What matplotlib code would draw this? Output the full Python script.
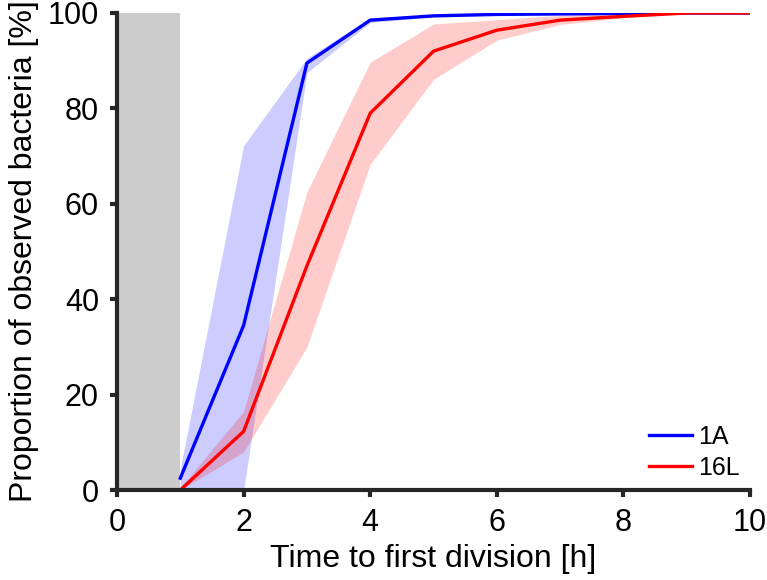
import matplotlib
matplotlib.use('Agg')
import numpy as np
import matplotlib.pyplot as plt
from matplotlib.patches import Rectangle

matplotlib.rcParams['font.family'] = ['Liberation Sans', 'DejaVu Sans']
matplotlib.rcParams['xtick.direction'] = 'out'
matplotlib.rcParams['ytick.direction'] = 'out'

# hours after which the first division was seen
hours = [1, 2, 3, 4, 5, 6, 7, 8, 9, 10]

# strain 1A: mean and spread of cumulative proportion [%]
a1_mean = [2.5, 34.5, 89.5, 98.5, 99.4, 99.7, 99.8, 99.9, 100, 100]
a1_low = [0, 0, 87.5, 98.0, 99.2, 99.6, 99.7, 99.9, 100, 100]
a1_high = [4.5, 72.2, 90.5, 99.0, 99.6, 99.8, 99.9, 100, 100, 100]

# strain 16L
l16_mean = [0, 12.3, 47, 79, 92, 96.4, 98.5, 99.3, 100, 100]
l16_low = [0, 8.0, 30.0, 68.3, 86.1, 94.3, 97.6, 99.0, 100, 100]
l16_high = [0.5, 16.5, 62.5, 89.7, 97.7, 98.6, 99.5, 100, 100, 100]

fig = plt.figure(figsize=(7.67, 5.8), dpi=100)
ax = fig.add_axes([0.1525, 0.155, 0.8255, 0.8226])

# no observations during the first hour
ax.add_patch(Rectangle((0, 0), 1, 100, facecolor='#cccccc', edgecolor='none', zorder=0))

ax.fill_between(hours, a1_low, a1_high, color='blue', alpha=0.2, linewidth=0)
ax.fill_between(hours, l16_low, l16_high, color='red', alpha=0.2, linewidth=0)
ax.plot(hours, a1_mean, color='blue', lw=2.4, label='1A')
ax.plot(hours, l16_mean, color='red', lw=2.4, label='16L')

ax.set_xlim(0, 10)
ax.set_ylim(0, 100)
ax.set_xticks([0, 2, 4, 6, 8, 10])
ax.set_yticks([0, 20, 40, 60, 80, 100])

for side in ['top', 'right']:
    ax.spines[side].set_visible(False)
for side in ['left', 'bottom']:
    ax.spines[side].set_linewidth(3)
    ax.spines[side].set_color('#262626')
ax.tick_params(width=3, length=5, color='#262626', labelsize=22, pad=8)

ax.set_xlabel('Time to first division [h]', fontsize=23, labelpad=4)
ax.set_ylabel('Proportion of observed bacteria [%]', fontsize=23, labelpad=6)

ax.legend(loc='lower right', frameon=False, fontsize=18, handlelength=1.75,
          handletextpad=0.25, labelspacing=0.28, borderaxespad=0.0)

fig.savefig('out.png', dpi=100)
